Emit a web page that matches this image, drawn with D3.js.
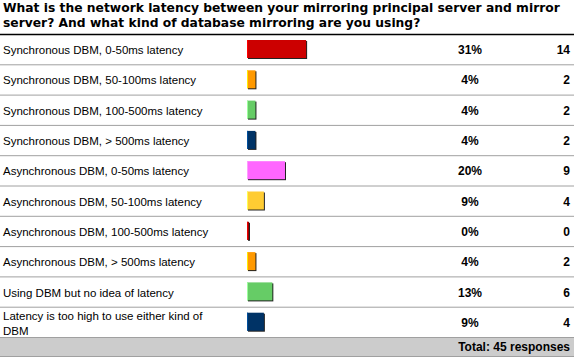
<!DOCTYPE html>
<html>
<head>
<meta charset="utf-8">
<script src="https://cdn.jsdelivr.net/npm/d3@7"></script>
<style>
  body { margin: 0; background: #fff; }
  svg { display: block; }
</style>
</head>
<body>
<div id="chart"></div>
<script>
var titleLines = ["What is the network latency between your mirroring principal server and mirror",
                  "server? And what kind of database mirroring are you using?"];

var answers = [
    "Synchronous DBM, 0-50ms latency",
    "Synchronous DBM, 50-100ms latency",
    "Synchronous DBM, 100-500ms latency",
    "Synchronous DBM, > 500ms latency",
    "Asynchronous DBM, 0-50ms latency",
    "Asynchronous DBM, 50-100ms latency",
    "Asynchronous DBM, 100-500ms latency",
    "Asynchronous DBM, > 500ms latency",
    "Using DBM but no idea of latency",
    "Latency is too high to use either kind of|DBM"
];
var counts = [14, 2, 2, 2, 9, 4, 0, 2, 6, 4];
var percents = ["31%", "4%", "4%", "4%", "20%", "9%", "0%", "4%", "13%", "9%"];
var barColors = ["#cc0000", "#ff9900", "#66cc66", "#003366", "#ff66ff",
                 "#ffcc33", "#990000", "#ff9900", "#66cc66", "#003366"];
var totalLabel = "Total: 45 responses";

var width = 574, height = 360;
var topY = 35, rowsBottom = 338, footerH = 18;
var total = d3.sum(counts);

var rows = answers.map(function(a, i) {
    return {label: a, count: counts[i], pct: percents[i], color: barColors[i]};
});

var svg = d3.select("#chart").append("svg")
    .attr("width", width)
    .attr("height", height);

// title
svg.append("text")
    .attr("x", 3)
    .attr("y", 12)
    .attr("font-family", "DejaVu Sans, Verdana, sans-serif")
    .attr("font-weight", "bold")
    .attr("font-size", "12.3px")
    .selectAll("tspan")
    .data(titleLines)
    .enter().append("tspan")
    .attr("x", 3)
    .attr("dy", function(d, i) { return i == 0 ? 0 : 15; })
    .text(function(d) { return d; });

let y = d3.scaleBand()
    .domain(d3.range(rows.length))
    .range([topY, rowsBottom]);

let x = d3.scaleLinear()
    .domain([0, 1])
    .range([0, 190]);

var barX = 247;

let row = svg.selectAll(".row")
    .data(rows)
    .enter().append("g")
    .attr("class", "row")
    .attr("transform", function(d, i) { return "translate(0," + y(i) + ")"; });

// separators under each row
row.append("line")
    .attr("x1", 0).attr("x2", width)
    .attr("y1", y.bandwidth() - 0.5).attr("y2", y.bandwidth() - 0.5)
    .attr("stroke", "#a0a0a0");

// label (may wrap)
row.append("text")
    .attr("font-family", "Liberation Sans, Arial, sans-serif")
    .attr("font-size", "11.5px")
    .attr("fill", "#000")
    .each(function(d) {
        var parts = d.label.split("|");
        var t = d3.select(this);
        var b0 = y.bandwidth() / 2 + 4 - (parts.length - 1) * 7;
        parts.forEach(function(p, k) {
            t.append("tspan").attr("x", 3).attr("y", b0 + k * 15).text(p);
        });
    });

function barW(d) { return Math.max(2, x(d.count / total)); }

// bar shadow
row.append("rect")
    .attr("x", barX + 1)
    .attr("y", 6)
    .attr("width", barW)
    .attr("height", 18)
    .attr("fill", "#222");

row.append("rect")
    .attr("x", barX)
    .attr("y", 5)
    .attr("width", barW)
    .attr("height", 18)
    .attr("fill", function(d) { return d.color; });

// light left edge
row.append("rect")
    .attr("x", barX)
    .attr("y", 5)
    .attr("width", 1)
    .attr("height", 18)
    .attr("fill", function(d) { return d3.color(d.color).brighter(1.2); });

row.append("text")
    .attr("x", 470)
    .attr("y", y.bandwidth() / 2 + 4)
    .attr("text-anchor", "middle")
    .attr("font-family", "Liberation Sans, Arial, sans-serif")
    .attr("font-weight", "bold")
    .attr("font-size", "12px")
    .text(function(d) { return d.pct; });

row.append("text")
    .attr("x", 570)
    .attr("y", y.bandwidth() / 2 + 4)
    .attr("text-anchor", "end")
    .attr("font-family", "Liberation Sans, Arial, sans-serif")
    .attr("font-weight", "bold")
    .attr("font-size", "12px")
    .text(function(d) { return d.count; });

// black line under title
svg.append("line")
    .attr("x1", 0).attr("x2", width)
    .attr("y1", topY - 0.5).attr("y2", topY - 0.5)
    .attr("stroke", "#000")
    .attr("stroke-width", 1.5);

// footer
svg.append("rect")
    .attr("x", 0).attr("y", rowsBottom)
    .attr("width", width).attr("height", footerH)
    .attr("fill", "#cccccc");
svg.append("line")
    .attr("x1", 0).attr("x2", width)
    .attr("y1", rowsBottom + footerH + 0.5).attr("y2", rowsBottom + footerH + 0.5)
    .attr("stroke", "#a0a0a0");
svg.append("text")
    .attr("x", 570)
    .attr("y", rowsBottom + footerH / 2 + 4)
    .attr("text-anchor", "end")
    .attr("font-family", "Liberation Sans, Arial, sans-serif")
    .attr("font-weight", "bold")
    .attr("font-size", "12px")
    .text(totalLabel);
</script>
</body>
</html>
